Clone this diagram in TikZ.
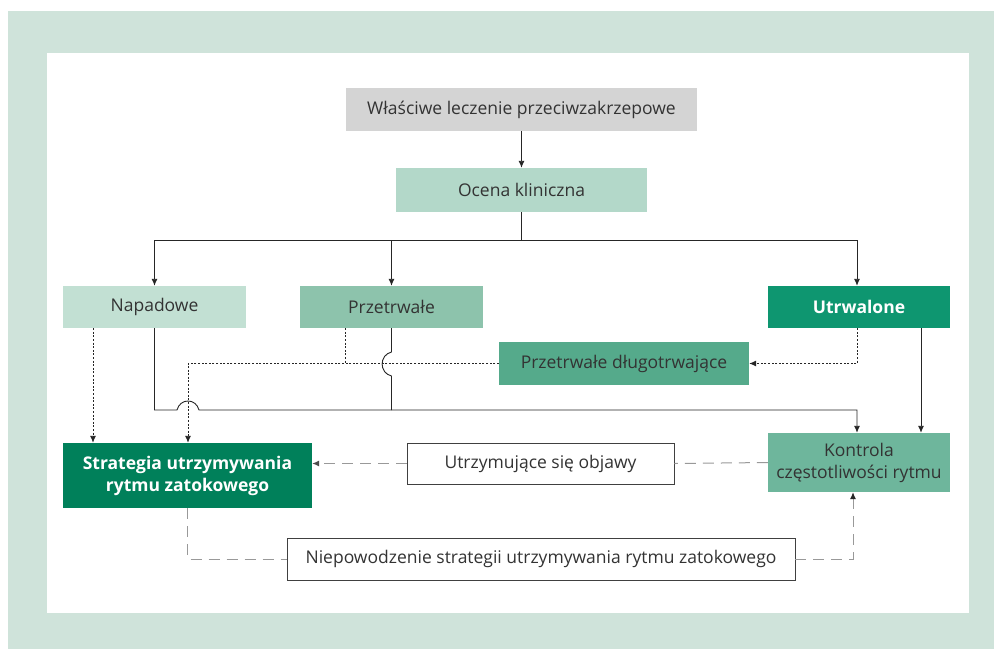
\documentclass[tikz,border=0pt]{standalone}
\usepackage{fontspec}
\setmainfont{Open Sans}
\usetikzlibrary{arrows.meta}

\definecolor{ramka}{HTML}{CFE3DA}
\definecolor{szary}{HTML}{D4D4D4}
\definecolor{ocenac}{HTML}{B3D8C9}
\definecolor{napc}{HTML}{C2E0D3}
\definecolor{przc}{HTML}{8DC3AC}
\definecolor{utrc}{HTML}{0E9670}
\definecolor{dlugc}{HTML}{55AA8B}
\definecolor{stratc}{HTML}{00805A}
\definecolor{kontrc}{HTML}{6EB69C}
\definecolor{tekst}{HTML}{333333}

\begin{document}
\begin{tikzpicture}[
            x=1pt, y=-1pt,
            every node/.style={inner sep=0pt, align=center, text=tekst,
                font=\fontsize{17.5}{22}\selectfont},
            box/.style={minimum height=42pt},
            ciemny/.style={box, text=white, font=\fontsize{17.5}{22}\selectfont\bfseries},
            ramkabox/.style={box, draw=black!75, line width=0.8pt, fill=white},
            strz/.style={-{Latex[length=7pt,width=6pt]}, line width=0.9pt, black!85},
            kropki/.style={line width=0.9pt, black!85, dash pattern=on 2pt off 1.6pt},
            kreski/.style={line width=1pt, black!40, dash pattern=on 11pt off 7pt}]
            % tlo
            \fill[white] (0,0) rectangle (994,649);
            \fill[ramka] (8,11) rectangle (994,649);
            \fill[white] (47,53) rectangle (969,613);
            % wezly
            \node[box, fill=szary, minimum width=351pt, minimum height=43pt] (leczenie) at (521.5,109.5) {Właściwe leczenie przeciwzakrzepowe};
            \node[box, fill=ocenac, minimum width=251pt, minimum height=44pt] (ocena) at (521.5,190) {Ocena kliniczna};
            \node[box, fill=napc, minimum width=183pt] (napadowe) at (154.5,307) {Napadowe};
            \node[box, fill=przc, minimum width=183pt] (przetrwale) at (391.5,307) {Przetrwałe};
            \node[ciemny, fill=utrc, minimum width=182pt] (utrwalone) at (859,307) {Utrwalone};
            \node[box, fill=dlugc, minimum width=250pt, minimum height=43pt] (dlugo) at (624,363.5) {Przetrwałe długotrwające};
            \node[ciemny, fill=stratc, minimum width=249pt, minimum height=65pt] (strategia) at (187.5,475.5) {Strategia utrzymywania\\rytmu zatokowego};
            \node[ramkabox, minimum width=267pt, minimum height=41pt] (objawy) at (540.5,463.5) {Utrzymujące się objawy};
            \node[box, fill=kontrc, minimum width=182pt, minimum height=59pt] (kontrola) at (859,462.5) {Kontrola\\częstotliwości rytmu};
            \node[ramkabox, minimum width=508pt] (niepow) at (541,559) {Niepowodzenie strategii utrzymywania rytmu zatokowego};
            % polaczenia
            \coordinate (rozwidl) at (521.5,240);
            \draw[strz] (leczenie) -- (ocena);
            \draw[line width=0.9pt, black!85] (ocena) -- (rozwidl);
            \draw[strz] (rozwidl) -| (napadowe.north);
            \draw[strz] (rozwidl) -| (przetrwale.north);
            \draw[strz] (rozwidl) -| ([xshift=-2pt]utrwalone.north);
            \draw[kropki, -{Latex[length=7pt,width=6pt]}] ([xshift=-61.5pt]napadowe.south) -- ([xshift=-94.5pt]strategia.north);
            \draw[kropki, -{Latex[length=7pt,width=6pt]}] ([xshift=-2pt]utrwalone.south) |- (dlugo.east);
            \draw[kropki] ([xshift=-46.5pt]przetrwale.south) -- (345,363.5);
            \draw[kropki, -{Latex[length=7pt,width=6pt]}] (dlugo.west) -- (188,363.5) -- ([xshift=0.5pt]strategia.north);
            \draw[strz] ([xshift=62pt]utrwalone.south) -- ([xshift=62pt]kontrola.north);
            \draw[strz] (napadowe.south) -- (154.5,410) -- (177,410)
                .. controls (180,398) and (196,398) .. (199,410)
                -- (857,410) -- ([xshift=-2pt]kontrola.north);
            \draw[line width=0.9pt, black!85] (przetrwale.south) -- (391.5,352)
                .. controls (379,355) and (379,373) .. (391.5,376) -- (391.5,410);
            \draw[kreski] (kontrola.west) -- (objawy.east);
            \draw[kreski, -{Latex[length=7pt,width=6pt,color=black!70]}] (objawy.west) -- (objawy.west -| strategia.east);
            \draw[kreski] (strategia.south) |- (niepow.west);
            \draw[kreski, -{Latex[length=7pt,width=6pt,color=black!85]}] (niepow.east) -| ([xshift=-6pt]kontrola.south);
        \end{tikzpicture}
\end{document}
